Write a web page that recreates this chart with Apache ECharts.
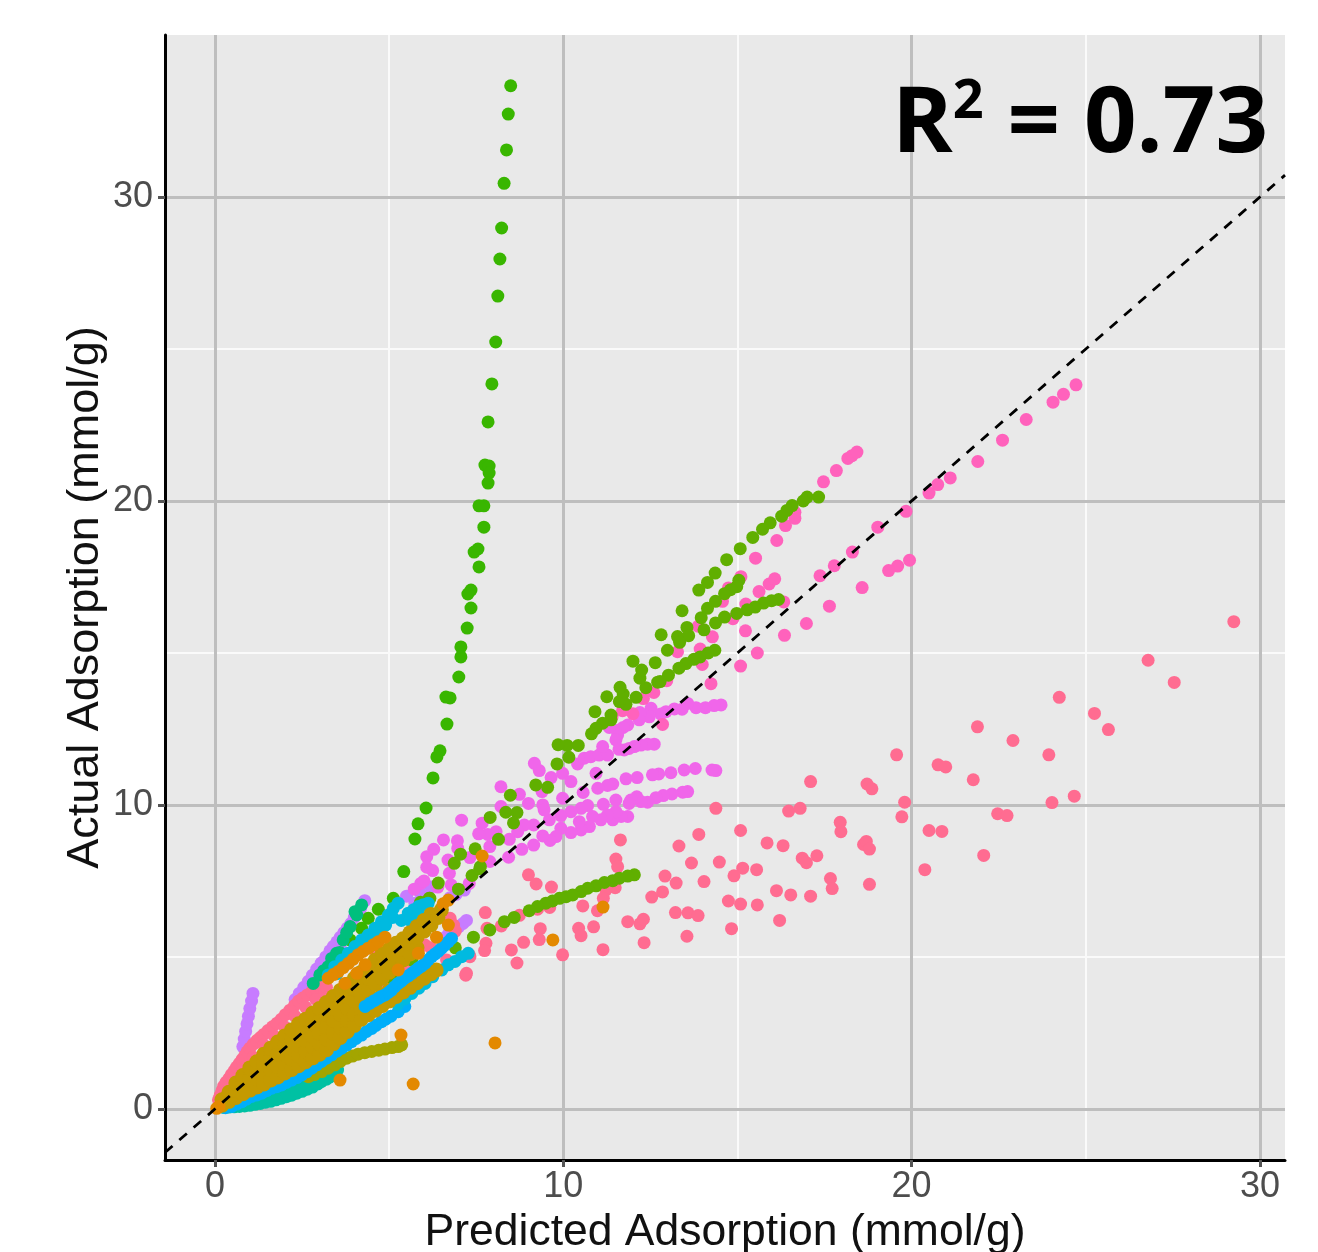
<!DOCTYPE html>
<html><head><meta charset="utf-8">
<style>html,body{margin:0;padding:0;background:#fff}#c{width:1318px;height:1252px}</style>
<script src="https://cdn.jsdelivr.net/npm/echarts@6/dist/echarts.min.js"></script>
</head><body><div id="c"></div>
<script>
const xTicks=[0,10,20,30], yTicks=[0,10,20,30], xMinor=[5,15,25], yMinor=[5,15,25];
const diagonal=[[-1.435,-1.435],[30.72,30.72]];
const purple=[[0.8,2.05],[0.84,2.3],[0.88,2.55],[0.92,2.8],[0.96,3.05],[1.0,3.3],[1.05,3.55],[1.09,3.8],
[2.3,3.6],[2.55,4.0],[2.8,4.4],[3.05,4.8],[3.3,5.2],[3.5,5.5],[3.7,5.8],[3.9,6.1],[4.1,6.45],[4.3,6.85],[4.18,6.6],[2.42,3.8],[2.68,4.2],[2.92,4.6],[3.18,5.0],[3.4,5.35],[3.6,5.65],[3.8,5.95],[4.0,6.3],[3.4,5.0],[3.6,5.3],[3.8,5.6],
[6.7,5.75],[6.85,5.9],[7.0,6.0],[7.12,6.1],[7.22,6.2],[6.5,5.6],[7.16,7.2],[6.92,7.06],[6.75,6.95],[5.74,6.77],[5.9,7.1],[6.2,7.3],[5.5,7.0]];
const magenta=[[14.53,13.29],[14.33,13.27],[14.08,13.2],[13.81,13.2],[13.57,13.34],[13.41,13.15],[13.19,13.16],[12.95,13.07],[12.8,12.99],[12.52,13.18],[12.47,12.9],[12.2,13.04],[12.18,12.8],[11.85,12.63],[11.72,12.55],[11.6,12.47],[11.56,12.3],[11.51,12.14],[11.32,12.55],
[12.61,12.0],[12.42,12.0],[12.23,11.97],[12.04,11.92],[11.89,11.86],[11.75,11.81],[11.6,11.83],
[14.38,11.13],[14.27,11.15],[13.79,11.2],[13.47,11.15],[13.09,11.06],[12.74,11.02],[12.56,10.99],[12.12,10.9],[11.8,10.86],[11.42,10.69],[11.27,10.64],[10.99,10.55],[10.57,10.41],
[13.57,10.44],[13.43,10.42],[13.12,10.36],[12.87,10.31],[12.66,10.24],[12.42,10.09],[12.23,10.11],[12.11,10.27],[11.94,10.16],[11.89,10.05],[11.85,9.62],[11.66,9.62],[11.42,9.51],[11.51,10.16],[11.51,9.78],[11.15,10.02],[11.27,9.67],[11.08,9.51],[10.84,9.62],[10.75,9.29],[10.51,9.18],[10.46,9.45],[10.22,9.09],[9.93,9.23],[9.79,8.96],[9.62,8.83],[9.41,8.98],[9.15,8.68],[8.81,8.54],[8.43,8.28],
[10.7,9.98],[10.51,9.89],[10.22,9.78],[9.93,9.65],[9.98,10.22],[9.6,9.51],[9.41,10.0],[9.45,9.84],[9.0,10.05],
[9.98,11.04],[10.22,10.77],[10.41,11.35],[10.6,11.54],[10.79,11.59],[11.03,11.64],[11.27,11.64],[11.13,11.92],[10.94,11.04],[9.65,10.9],[9.39,10.44],[9.17,11.37],[9.31,11.13],[8.21,10.6],[8.74,10.35],[7.08,9.5],[7.67,9.4],[9.15,9.34],[8.88,9.34],[8.69,9.12],[8.45,8.87],[8.07,9.12],[7.83,9.03],[7.57,9.05],[8.21,9.95],[7.89,8.63],[7.89,8.14],[6.56,8.85],[6.96,8.82],[6.97,8.57],[6.28,8.54],[6.08,8.3],[6.08,7.95],[6.25,7.84],[6.69,8.19],[7.32,8.27],[6.73,7.75],[5.91,7.42],[5.72,7.23],[6.78,7.37],[7.3,7.42],[6.4,7.3],[6.0,7.5]];
const pink=[[24.72,23.82],[24.36,23.51],[24.06,23.25],[23.29,22.68],[22.61,22.0],[21.9,21.3],[21.11,20.76],[20.75,20.54],[20.5,20.26],[19.84,19.66],[19.03,19.14],[18.3,18.32],[17.78,17.87],[17.37,17.54],[18.58,17.15],[19.94,18.05],[19.6,17.86],[19.34,17.71],[17.64,16.54],[16.98,15.97],[16.35,15.58],[15.57,15.0],[15.09,14.57],[14.24,13.99],[15.23,15.73],[16.33,16.68],[14.87,16.13],[15.62,17.02],[15.91,17.27],[16.07,17.44],[15.24,16.61],[15.1,17.51],[15.52,18.12],[16.13,18.7],[16.38,19.19],[16.65,19.43],[16.65,19.63],[17.47,20.63],[17.84,21.0],[18.17,21.4],[18.29,21.49],[18.43,21.61],[14.57,16.7],[14.74,17.14],[13.87,15.88],[14.28,15.53],[13.93,15.13],[13.99,14.62],[13.28,15.04],[12.97,14.09],[12.85,12.65],[12.6,13.7],[12.3,13.5],[12.0,13.0],[11.7,13.1],[11.4,12.9]];
const salmon=[[29.25,16.03],[26.79,14.76],[27.54,14.03],[24.24,13.54],[25.25,13.01],[25.65,12.48],[21.89,12.57],[22.91,12.12],[23.94,11.65],[19.57,11.65],[20.76,11.32],[20.98,11.25],[21.77,10.83],[17.1,10.77],[18.72,10.69],[18.86,10.53],[19.8,10.09],[19.72,9.61],[24.03,10.08],[24.67,10.29],[14.38,9.89],[16.47,9.8],[16.8,9.89],[22.47,9.71],[22.74,9.65],[20.5,9.16],[20.87,9.13],[22.07,8.34],[20.38,7.87],[17.95,9.43],[17.97,9.12],[15.09,9.16],[13.89,9.03],[13.32,8.65],[15.85,8.75],[16.31,8.66],[18.62,8.7],[18.7,8.8],[18.79,8.55],[17.28,8.33],[16.86,8.25],[16.98,8.1],[13.68,8.09],[14.48,8.12],[15.15,7.92],[15.55,7.87],[14.9,7.67],[12.92,7.66],[13.24,7.43],[14.04,7.48],[12.85,7.14],[17.67,7.58],[17.72,7.25],[18.79,7.39],[16.12,7.18],[16.53,7.04],[17.1,7.0],[14.74,6.84],[15.09,6.74],[15.57,6.71],[13.22,6.46],[13.58,6.45],[13.87,6.36],[16.21,6.2],[14.83,5.93],[13.55,5.68],
[11.64,8.85],[11.51,8.22],[11.56,7.97],[12.54,6.97],[11.85,6.16],[12.2,6.09],[12.3,6.24],[12.32,5.47],[11.14,5.24],[10.44,5.94],[10.51,5.7],[10.87,5.99],[10.56,6.68],[10.98,6.52],[11.49,7.28],[11.22,7.2],[11.15,6.93],[9.0,7.7],[9.22,7.4],[9.66,7.3],[9.61,6.63],[9.26,6.57],[8.74,6.37],[8.22,6.02],[7.76,6.46],[7.81,5.94],[9.34,5.93],[9.31,5.57],[8.86,5.48],[8.51,5.23],[7.78,5.45],[7.74,5.21],[9.98,5.07],[8.67,4.8],[7.3,5.07],[7.2,4.4],
[0.1,0.3],[0.15,0.45],[0.2,0.6],[0.25,0.75],[0.32,0.88],[0.4,1.0],[0.47,1.13],[0.55,1.25],[0.62,1.38],[0.7,1.5],[0.78,1.63],[0.85,1.75],[0.92,1.88],[1.0,2.0],[1.1,2.13],[1.2,2.25],[1.3,2.35],[1.4,2.45],[1.52,2.58],[1.65,2.7],[1.78,2.82],[1.9,2.95],[2.02,3.1],[2.15,3.25],[2.28,3.4],[2.4,3.55],[2.52,3.65],[2.65,3.75],[2.78,3.85],[2.9,3.95],[3.0,4.02],[3.1,4.1],[0.5,0.9],[0.8,1.3],[1.1,1.7],[1.4,2.1],[1.7,2.4],[2.0,2.7],[2.3,3.05],[2.6,3.35],[2.9,3.6],[3.15,3.85],[3.2,4.0],
[4.5,5.29],[4.78,4.08],[6.03,5.39],[5.55,4.68],[6.65,4.9],[6.75,6.27],[7.22,4.46],[7.32,5.01],[5.8,5.2],[6.2,5.3],[6.85,6.05],[6.9,5.85]];
const greenA=[[8.49,33.66],[8.42,32.73],[8.37,31.55],[8.3,30.45],[8.23,28.98],[8.18,27.96],[8.12,26.74],[8.06,25.23],[7.95,23.85],[7.84,22.6],[7.75,21.18],[7.87,21.15],[7.87,20.92],[7.84,20.59],[7.72,19.84],[7.58,19.84],[7.72,19.14],[7.55,18.42],[7.44,18.32],[7.58,17.83],[7.35,17.07],[7.26,16.94],[7.35,16.48],[7.24,15.82],[7.06,15.2],[7.06,14.87],[7.0,14.21],[6.75,13.52],[6.63,13.55],[6.66,12.66],[6.46,11.78],[6.37,11.58],[6.26,10.89],[6.06,9.9],[5.83,9.38],[5.74,8.88],[5.42,7.81],[5.12,6.93],
[4.69,6.57],[4.4,6.27],[4.21,5.94],[3.88,5.56],[3.59,5.12]];
const greenB=[[17.33,20.13],[17.0,20.13],[16.89,20.0],[16.57,19.85],[16.42,19.69],[16.27,19.5],[15.94,19.28],[15.72,19.07],[15.44,18.8],[15.08,18.43],[14.69,18.07],[14.36,17.63],[14.14,17.32],[13.89,17.07],[13.41,16.39],[13.55,15.84],[13.28,15.54],
[15.04,17.39],[14.98,17.18],[14.8,17.08],[14.63,16.95],[14.37,16.7],[14.14,16.47],[13.96,16.16],[14.04,15.76],[13.6,15.57],[13.34,15.35],[12.99,15.09],[12.81,15.6],
[16.18,16.76],[15.98,16.72],[15.75,16.64],[15.51,16.51],[15.28,16.42],[14.98,16.3],[14.63,16.18],[14.37,15.99],
[14.35,15.09],[14.16,15.0],[13.93,14.87],[13.75,14.79],[13.52,14.65],[13.32,14.5],[13.02,14.27],[12.78,14.06],
[12.71,14.04],[12.37,13.86],[12.09,13.54],[11.8,13.31],[11.61,13.4],[11.72,13.65],[11.63,13.87],[11.25,13.56],[12.2,14.17],[12.25,14.44],[12.0,14.73],[12.64,14.68],
[11.37,12.96],[11.37,12.8],[11.13,12.69],[10.94,12.52],[10.81,12.34],[10.91,13.07],[10.43,11.96],[10.11,11.96],[9.85,11.98],[10.16,11.57],[9.82,11.35],[9.55,10.58],[9.21,10.66],[8.48,10.32],[7.9,9.59],[8.35,9.76],[8.67,9.75],[8.57,9.41],[8.14,8.87],[7.47,8.56],[7.05,8.38],[6.87,8.08],[7.62,7.97],[7.38,7.68],[6.41,7.43],[6.99,7.23],[6.15,6.93],[7.6,7.9],
[12.04,7.7],[11.85,7.66],[11.61,7.59],[11.42,7.51],[11.18,7.45],[10.94,7.34],[10.7,7.26],[10.51,7.15],[10.27,7.04],[10.08,6.98],[9.89,6.93],[9.69,6.84],[9.5,6.77],[9.26,6.66],[9.02,6.52],[8.59,6.3],[8.31,6.16],[7.89,5.89],[7.42,5.65],[6.9,5.3],
[5.07,4.3],[5.65,4.9],[6.17,6.93],[5.9,6.8]];
const tealGreen=[[4.21,6.71],[4.07,6.38],[4.02,6.49],[3.88,6.0],[3.68,5.56],[3.49,5.12],[3.58,5.15],[3.25,4.68],[3.01,4.41],[2.82,4.13],[3.35,4.95],[3.12,4.55],[3.78,5.8]];
const teal=[[3.45,1.2],[3.3,1.05],[3.05,0.9],[2.8,0.72],[2.5,0.58],[2.2,0.45],[1.9,0.35],[1.6,0.25],[1.3,0.18],[1.0,0.12],[0.7,0.08],[0.4,0.06],[3.4,1.3],[3.1,1.15],[2.8,1.0],[2.5,0.85],[2.2,0.7],[1.9,0.55],[1.6,0.42],[1.3,0.32],[3.52,1.28],
[3.2,0.98],[2.95,0.82],[2.65,0.65],[2.35,0.52],[2.05,0.4],[1.75,0.3],[1.45,0.22],[1.15,0.15],[0.85,0.1],[0.55,0.07],[0.25,0.05]];
const blueLow=[[5.45,3.37],[5.26,3.2],[5.05,3.05],[4.9,2.95],[4.78,2.87],[4.62,2.75],[4.5,2.65],[4.35,2.55],[4.21,2.43],[4.05,2.32],[3.92,2.21],[3.78,2.1],[3.64,2.0],[3.5,1.9],[3.35,1.78],[3.2,1.67],[3.06,1.56],[2.92,1.45],[2.78,1.34],[2.63,1.22],[2.49,1.12],[2.35,1.03],[2.2,0.95],[2.05,0.87],[1.91,0.79],[1.77,0.73],[1.63,0.68],[1.48,0.6],[1.34,0.52],[1.2,0.46],[1.05,0.41],[0.9,0.32],[0.77,0.24],[0.62,0.16],[0.48,0.08],[0.3,0.04]];
const cyan=[[5.26,6.77],[5.12,6.6],[4.98,6.38],[4.78,6.16],[4.59,5.94],[4.4,5.72],[4.21,5.56],[4.02,5.34],[3.83,5.12],[3.64,4.9],[3.44,4.68],[3.25,4.41],[5.1,6.3],[4.9,6.05],[4.7,5.8],[4.5,5.55],[4.3,5.3],[4.1,5.1],[3.9,4.9],[3.7,4.7],[3.5,4.45],[5.55,6.44],[5.7,6.55],[5.84,6.66],[5.98,6.72],[6.12,6.77],[5.35,6.2],[5.6,6.2],[5.85,6.4],
[7.27,5.12],[7.08,5.01],[6.89,4.85],[6.7,4.74],[6.51,4.57],[6.25,4.35],[6.03,4.13],[5.85,3.97],[5.65,3.8],[5.45,3.62],[5.25,3.45]];
const olive=[[2.68,1.06],[2.85,1.13],[3.06,1.23],[3.25,1.34],[3.44,1.45],[3.6,1.56],[3.78,1.67],[3.95,1.74],[4.11,1.8],[4.3,1.85],[4.5,1.89],[4.7,1.93],[4.88,1.97],[5.08,2.02],[5.26,2.05],[5.36,2.11]];
const gold=[[0.2,0.12],[0.2,0.3],
[0.4,0.25],[0.4,0.55],
[0.6,0.38],[0.6,0.62],[0.6,0.85],
[0.8,0.5],[0.8,0.8],[0.8,1.1],
[1.0,0.62],[1.0,0.98],[1.0,1.35],
[1.2,0.72],[1.2,1.0],[1.2,1.28],[1.2,1.55],
[1.4,0.82],[1.4,1.15],[1.4,1.48],[1.4,1.8],
[1.6,0.95],[1.6,1.3],[1.6,1.65],[1.6,2.0],
[1.8,1.05],[1.8,1.4],[1.8,1.8],[1.8,2.2],
[2.0,1.18],[2.0,1.5],[2.0,1.8],[2.0,2.1],[2.0,2.4],
[2.2,1.3],[2.2,1.65],[2.2,2.0],[2.2,2.3],[2.2,2.6],
[2.4,1.42],[2.4,1.75],[2.4,2.1],[2.4,2.45],[2.4,2.8],
[2.6,1.55],[2.6,1.9],[2.6,2.25],[2.6,2.6],[2.6,2.95],
[2.8,1.68],[2.8,2.05],[2.8,2.4],[2.8,2.8],[2.8,3.15],
[3.0,1.8],[3.0,2.15],[3.0,2.5],[3.0,2.9],[3.0,3.3],
[3.2,1.95],[3.2,2.3],[3.2,2.7],[3.2,3.1],[3.2,3.5],
[3.4,2.15],[3.4,2.5],[3.4,2.9],[3.4,3.3],[3.4,3.7],
[3.6,2.35],[3.6,2.7],[3.6,3.1],[3.6,3.5],[3.6,3.9],
[3.8,2.55],[3.8,2.9],[3.8,3.3],[3.8,3.7],[3.8,4.1],
[4.0,2.75],[4.0,3.1],[4.0,3.55],[4.0,3.95],[4.0,4.3],
[4.2,2.95],[4.2,3.3],[4.2,3.75],[4.2,4.15],[4.2,4.5],
[4.4,3.1],[4.4,3.45],[4.4,3.9],[4.4,4.3],[4.4,4.7],
[4.6,3.25],[4.6,3.6],[4.6,4.1],[4.6,4.5],[4.6,4.9],
[4.8,3.4],[4.8,3.75],[4.8,4.3],[4.8,4.7],[4.8,5.1],
[5.0,3.55],[5.0,3.9],[5.0,4.5],[5.0,4.85],[5.0,5.25],
[5.2,3.7],[5.2,4.7],[5.2,5.05],[5.2,5.45],
[5.4,3.85],[5.4,4.9],[5.4,5.25],[5.4,5.6],
[5.6,4.0],[5.6,5.1],[5.6,5.45],[5.6,5.8],
[5.8,4.15],[5.8,5.3],[5.8,5.65],[5.8,6.0],
[6.0,4.3],[6.0,5.85],[6.0,6.2],
[6.2,4.45],[6.2,6.05],[6.2,6.4],
[6.35,4.57],[6.4,6.3],[6.5,6.55]];
const blueHigh=[[6.79,5.61],[6.7,5.5],[6.6,5.39],[6.5,5.28],[6.41,5.18],[6.32,5.1],[6.22,5.01],[6.12,4.9],[6.03,4.79],[5.93,4.7],[5.84,4.63],[5.75,4.55],[5.65,4.46],[5.55,4.38],[5.45,4.3],[5.35,4.2],[5.26,4.13],[5.16,4.02],[5.07,3.91],[4.98,3.83],[4.88,3.75],[4.78,3.7],[4.69,3.64],[4.57,3.56],[4.45,3.48],[4.31,3.37]];
const orange=[[3.59,0.95],[5.69,0.82],[5.34,2.43],[8.04,2.17],[9.7,5.56],[11.14,6.64],[7.67,8.32],
[3.25,4.3],[3.4,4.42],[3.54,4.52],[3.68,4.65],[3.83,4.79],[3.97,4.93],[4.11,5.07],[4.25,5.18],[4.4,5.29],[4.55,5.4],[4.69,5.5],[4.88,5.65],[6.7,6.87],[6.55,6.75],[6.36,5.65],[6.7,6.05],[5.84,5.12],[5.26,4.57],[4.31,4.74],[4.07,4.46],[3.73,4.13],[0.05,0.02],[0.12,0.08]];

function dots(name,color,data,size){return {name,type:'scatter',data,symbol:'circle',symbolSize:size||13,itemStyle:{color,opacity:1},silent:true,clip:true,large:false};}
const chart=echarts.init(document.getElementById('c'),null,{renderer:'canvas'});
const font='"Liberation Sans",Arial,sans-serif';
const xr=[-1.435,30.72], yr=[-1.68,35.33];
chart.setOption({
 animation:false,backgroundColor:'#fff',
 grid:{left:165,right:33,top:35,bottom:92,backgroundColor:'#E9E9E9',show:true,borderWidth:0,outerBoundsMode:'none'},
 xAxis:[
  {type:'value',min:xr[0],max:xr[1],position:'bottom',z:1,splitLine:{show:true,lineStyle:{color:'#FAFAFA',width:2}},axisLine:{show:false},axisTick:{show:false,customValues:xMinor},axisLabel:{show:false,customValues:xMinor}},
  {type:'value',min:xr[0],max:xr[1],position:'bottom',z:2,
   name:'Predicted Adsorption (mmol/g)',nameLocation:'middle',nameGap:50,nameTextStyle:{color:'#111',fontSize:44.5,fontFamily:font},
   splitLine:{show:true,lineStyle:{color:'#BEBEBE',width:3}},
   axisLine:{show:true,onZero:false,lineStyle:{color:'#000',width:3}},
   axisTick:{show:true,length:7,customValues:xTicks,lineStyle:{color:'#555',width:3}},
   axisLabel:{color:'#4D4D4D',fontSize:36,fontFamily:font,margin:9,customValues:xTicks,hideOverlap:false,showMinLabel:true,showMaxLabel:true}}],
 yAxis:[
  {type:'value',min:yr[0],max:yr[1],position:'left',z:1,splitLine:{show:true,lineStyle:{color:'#FAFAFA',width:2}},axisLine:{show:false},axisTick:{show:false,customValues:yMinor},axisLabel:{show:false,customValues:yMinor}},
  {type:'value',min:yr[0],max:yr[1],position:'left',z:2,
   name:'Actual Adsorption (mmol/g)',nameLocation:'middle',nameGap:57,nameMoveOverlap:false,nameRotate:90,nameTextStyle:{color:'#111',fontSize:45,fontFamily:font},
   splitLine:{show:true,lineStyle:{color:'#BEBEBE',width:3}},
   axisLine:{show:true,onZero:false,lineStyle:{color:'#000',width:3}},
   axisTick:{show:true,length:7,customValues:yTicks,lineStyle:{color:'#555',width:3}},
   axisLabel:{color:'#4D4D4D',fontSize:36,fontFamily:font,margin:12,padding:[5,0,0,0],customValues:yTicks,hideOverlap:false}}],
 series:[
  dots('purple','#C77CFF',purple),
  dots('magenta','#F066EA',magenta),
  dots('pink','#FF62BC',pink),
  dots('salmon','#FF6C91',salmon),
  dots('greenA','#39B600',greenA),
  dots('greenB','#60AF00',greenB),
  dots('tealGreen','#00BF7D',tealGreen),
  dots('teal','#00C1A3',teal),
  dots('olive','#A3A500',olive),
  dots('blueLow','#00AEFA',blueLow),
  dots('cyan','#00BAE0',cyan),
  dots('gold','#C49A00',gold,15),
  dots('blueHigh','#00AEFA',blueHigh),
  dots('orange','#E38900',orange)
 ].map(s=>Object.assign(s,{xAxisIndex:1,yAxisIndex:1})).concat([
  {name:'identity',type:'line',xAxisIndex:1,yAxisIndex:1,data:diagonal,symbol:'none',silent:true,z:5,lineStyle:{color:'#000',width:2.8,type:[10,9]}}
 ]),
 graphic:[{type:'text',right:50,top:76,z:20,style:{
   text:'{a|R}{b|2}{a| = 0.73}',
   rich:{a:{font:'bold 92px "Open Sans"',fill:'#000',lineHeight:100},b:{font:'bold 54px "Open Sans"',fill:'#000',lineHeight:100,verticalAlign:'top',padding:[0,0,30,0]}}
 }}]
});
</script></body></html>
